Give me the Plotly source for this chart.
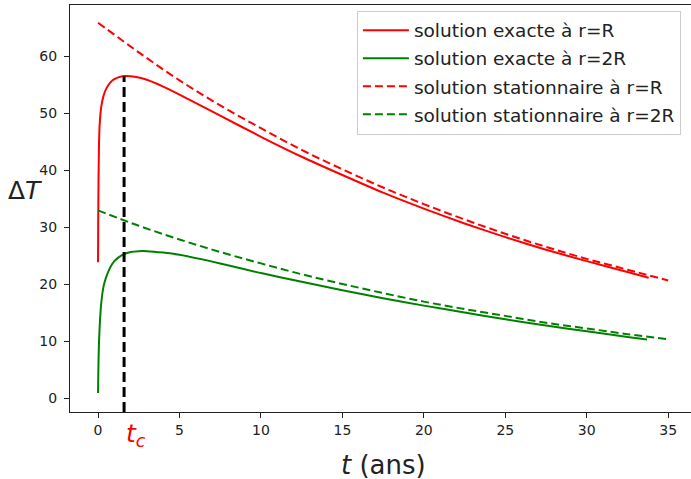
import numpy as np
import plotly.graph_objects as go

# Stationary solutions
t_stat = [0, 2.5, 5, 7.5, 10, 12.5, 15, 17.5, 20, 22.5, 25, 27.5, 30, 32.5, 35]
red_stat = [65.9, 60.7, 55.8, 51.4, 47.4, 43.6, 40.2, 37.0, 34.1, 31.4, 28.9, 26.6, 24.5, 22.6, 20.7]
green_stat = [33.0, 30.3, 27.9, 25.7, 23.7, 21.8, 20.1, 18.5, 17.0, 15.7, 14.5, 13.3, 12.3, 11.3, 10.4]

# Exact solutions
t_red = [0, 0.01, 0.03, 0.06, 0.1, 0.2, 0.35, 0.5, 0.75, 1.0, 1.5, 2.0, 2.5, 3.0, 4.0, 5.0,
         7.5, 10, 12.5, 15, 17.5, 20, 22.5, 25, 27.5, 30, 32.5, 33.8]
red_exact = [23.9, 30, 38, 44.5, 48.0, 51.2, 53.2, 54.3, 55.4, 56.0, 56.5, 56.5, 56.3, 55.9, 54.7,
             53.3, 49.6, 45.9, 42.4, 39.2, 36.1, 33.3, 30.7, 28.3, 26.1, 24.1, 22.2, 21.2]
t_green = [0, 0.02, 0.05, 0.1, 0.2, 0.35, 0.5, 0.75, 1.0, 1.5, 2.0, 2.5, 3.0, 4.0, 5.0, 7.5,
           10, 12.5, 15, 17.5, 20, 22.5, 25, 27.5, 30, 32.5, 33.7]
green_exact = [1.0, 5, 9, 12.5, 16.8, 19.8, 21.3, 23.0, 24.1, 25.2, 25.7, 25.85, 25.85, 25.6, 25.2,
               23.7, 22.0, 20.5, 19.0, 17.6, 16.3, 15.1, 13.9, 12.8, 11.8, 10.8, 10.35]

tc = 1.6
x_ticks = [0, 5, 10, 15, 20, 25, 30, 35]
y_ticks = [0, 10, 20, 30, 40, 50, 60]
x_range = [-1.72, 36.4]
y_range = [-2.35, 69.0]

fig = go.Figure()
fig.add_trace(go.Scatter(x=t_red, y=red_exact, mode="lines", line=dict(color="red", width=2, shape="spline", smoothing=0.6),
                         name="solution exacte à r=R", legendgroup="a"))
fig.add_trace(go.Scatter(x=t_green, y=green_exact, mode="lines", line=dict(color="green", width=2, shape="spline", smoothing=0.6),
                         name="solution exacte à r=2R", legendgroup="b"))
fig.add_trace(go.Scatter(x=t_stat, y=red_stat, mode="lines",
                         line=dict(color="red", width=2, dash="8px,4px", shape="spline"),
                         name="solution stationnaire à r=R", legendgroup="c"))
fig.add_trace(go.Scatter(x=t_stat, y=green_stat, mode="lines",
                         line=dict(color="green", width=2, dash="8px,4px", shape="spline"),
                         name="solution stationnaire à r=2R", legendgroup="d"))

tc_top = float(np.interp(tc, t_red, red_exact))
fig.add_trace(go.Scatter(x=[tc, tc], y=[y_range[0], tc_top], mode="lines",
                         line=dict(color="black", width=3, dash="10px,5px"),
                         showlegend=False, hoverinfo="skip"))

axis_common = dict(showline=True, linecolor="#222", linewidth=1.2, ticks="outside",
                   ticklen=5, tickcolor="#222", tickwidth=1.2, showgrid=False, zeroline=False,
                   tickfont=dict(family="DejaVu Sans", size=14, color="#222"))

fig.update_layout(
    width=691, height=479,
    margin=dict(l=70, r=0, t=5, b=67),
    paper_bgcolor="white", plot_bgcolor="white",
    xaxis=dict(range=x_range, tickvals=x_ticks, mirror=True, **axis_common),
    yaxis=dict(range=y_range, tickvals=y_ticks, ticklabelstandoff=4, **axis_common),
    legend=dict(x=0.462, y=0.986, xanchor="left", yanchor="top",
                bgcolor="rgba(255,255,255,0.8)", bordercolor="#cccccc", borderwidth=1,
                font=dict(family="DejaVu Sans", size=18.5, color="#222"),
                tracegroupgap=1, itemwidth=46),
    font=dict(family="DejaVu Sans"),
    annotations=[
        dict(text="<i>t</i> (ans)", x=0.505, y=-0.13, xref="paper", yref="paper",
             xanchor="center", yanchor="middle", showarrow=False,
             font=dict(family="DejaVu Sans", size=26, color="#222")),
        dict(text="Δ<i>T</i>", x=-0.0717, y=0.545, xref="paper", yref="paper",
             xanchor="center", yanchor="middle", showarrow=False,
             font=dict(family="DejaVu Sans", size=25, color="#222")),
        dict(text="<i>t</i><sub><i>c</i></sub>", x=tc, y=-0.012, xref="x", yref="paper",
             xanchor="left", yanchor="top", showarrow=False,
             font=dict(family="DejaVu Sans", size=25, color="red")),
    ],
)

fig.write_html("out.html", config={"displayModeBar": False},
               post_script="document.body.style.margin='0px';")
